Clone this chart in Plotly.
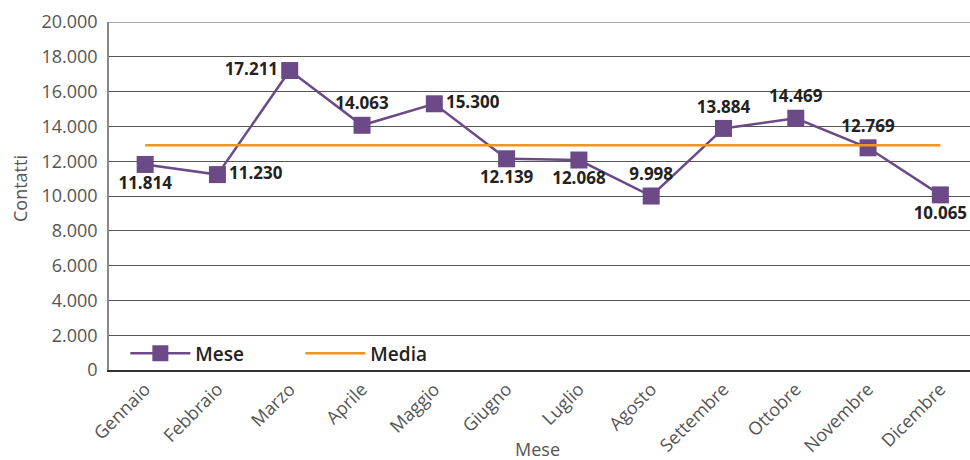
import plotly.graph_objects as go

months = ["Gennaio", "Febbraio", "Marzo", "Aprile", "Maggio", "Giugno", "Luglio",
          "Agosto", "Settembre", "Ottobre", "Novembre", "Dicembre"]
contatti = [11814, 11230, 17211, 14063, 15300, 12139, 12068, 9998, 13884, 14469, 12769, 10065]
media = [12918] * 12
label_pos = ["bottom center", "middle right", "middle left", "top center", "middle right",
             "bottom center", "bottom center", "top center", "top center", "top center",
             "top center", "bottom center"]
labels = [f"{v:,}".replace(",", ".") for v in contatti]

PURPLE = "#6B4A87"
ORANGE = "#F7941D"
FONT = "Open Sans"

fig = go.Figure()
fig.add_trace(go.Scatter(
    x=months, y=contatti, name="Mese", mode="lines+markers+text",
    line=dict(color=PURPLE, width=2.5),
    marker=dict(symbol="square", size=17, color=PURPLE),
    text=labels, textposition=label_pos, cliponaxis=False,
    textfont=dict(family=FONT, size=17, color="#222222", weight="bold"),
))
fig.add_trace(go.Scatter(
    x=months, y=media, name="Media", mode="lines",
    line=dict(color=ORANGE, width=2.5),
))

ytick_vals = list(range(0, 20001, 2000))
ytick_text = [f"{v:,}".replace(",", ".") for v in ytick_vals]

fig.update_layout(
    width=970, height=460,
    margin=dict(l=109, r=0, t=22, b=90, autoexpand=False),
    paper_bgcolor="white", plot_bgcolor="white",
    font=dict(family=FONT, color="#555555"),
    showlegend=True,
    legend=dict(orientation="h", x=0.019, y=-0.007, xanchor="left", yanchor="bottom",
                bgcolor="rgba(0,0,0,0)",
                font=dict(family=FONT, size=19, color="#222222", weight=600),
                itemwidth=60, entrywidthmode="pixels", entrywidth=100),
    xaxis=dict(
        range=[-0.5, 11.41], showgrid=False, showline=True, linecolor="#333333", linewidth=1.5,
        tickangle=-45, tickfont=dict(family=FONT, size=18, color="#555555"),
        ticks="", automargin=False,
    ),
    yaxis=dict(
        range=[0, 20000], tickvals=ytick_vals, ticktext=ytick_text,
        showgrid=True, gridcolor="#555555", gridwidth=1,
        showline=True, linecolor="#888888", linewidth=1.5, mirror=False,
        tickfont=dict(family=FONT, size=18, color="#555555"),
        ticks="", zeroline=False, automargin=False, ticklabelstandoff=6,
    ),
    annotations=[
        dict(text="Mese", xref="paper", yref="paper", x=0.498, y=0, yanchor="middle",
             yshift=-79, showarrow=False, font=dict(family=FONT, size=18, color="#555555")),
        dict(text="Contatti", xref="paper", yref="paper", x=0, y=0.52, xanchor="center",
             xshift=-89, textangle=-90, showarrow=False,
             font=dict(family=FONT, size=18, color="#555555")),
    ],
)
fig.add_shape(type="line", xref="paper", yref="y", x0=0, x1=1, y0=20000, y1=20000,
              line=dict(color="#888888", width=1.5))

fig.write_html("out.html", config={"displayModeBar": False},
               post_script="document.body.style.margin='0';")
